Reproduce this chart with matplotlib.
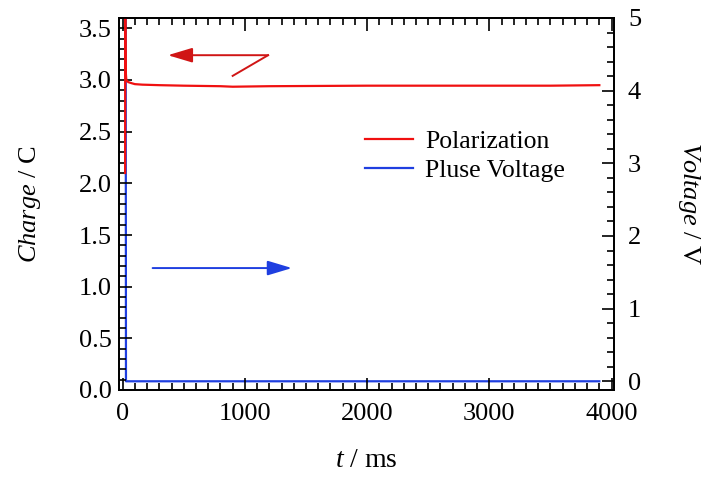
import numpy as np
import matplotlib
matplotlib.use("Agg")
import matplotlib.pyplot as plt
from matplotlib.ticker import MultipleLocator, FuncFormatter

# data
t_pol = [20, 21, 24, 30, 45, 70, 100, 160, 300, 500, 800, 900, 1200, 2000, 3000, 3500, 3900]
charge = [2.10, 3.70, 3.10, 3.00, 2.98, 2.97, 2.96, 2.955, 2.95, 2.945, 2.94, 2.935, 2.94, 2.945, 2.945, 2.945, 2.95]

t_volt = [25, 27, 3900]
voltage = [5.0, 0.0, 0.0]

plt.rcParams["font.family"] = ["Liberation Serif", "DejaVu Serif"]
plt.rcParams["mathtext.fontset"] = "custom"
plt.rcParams["mathtext.rm"] = "Liberation Serif"
plt.rcParams["mathtext.it"] = "Liberation Serif:italic"
plt.rcParams["font.size"] = 19

W, H = 715, 478
fig = plt.figure(figsize=(W / 100, H / 100), dpi=100)
fig.subplots_adjust(left=119 / W, right=614 / W, top=1 - 18 / H, bottom=1 - 390 / H)
ax1 = fig.add_subplot(111)
ax2 = ax1.twinx()

# red on top of blue
ax1.set_zorder(ax2.get_zorder() + 1)
ax1.patch.set_visible(False)

l2, = ax2.plot(t_volt, voltage, color="#1f3fe0", lw=1.6, label="Pluse Voltage")
l1, = ax1.plot(t_pol, charge, color="#f01010", lw=1.6, label="Polarization")

ax1.set_xlim(-30, 4020)
ax1.set_ylim(0, 3.6)
ax2.set_ylim(-0.12, 5.0)

ax1.xaxis.set_major_locator(MultipleLocator(1000))
ax1.xaxis.set_minor_locator(MultipleLocator(100))
ax1.yaxis.set_major_locator(MultipleLocator(0.5))
ax1.yaxis.set_minor_locator(MultipleLocator(0.1))
ax1.yaxis.set_major_formatter(FuncFormatter(lambda v, p: f"{v:.1f}"))
ax2.yaxis.set_major_locator(MultipleLocator(1))
ax2.yaxis.set_minor_locator(MultipleLocator(0.2))

for ax in (ax1, ax2):
    ax.tick_params(which="major", direction="in", length=9, width=1.2, labelsize=19)
    ax.tick_params(which="minor", direction="in", length=5, width=1.2)
    for s in ax.spines.values():
        s.set_linewidth(1.3)
ax1.tick_params(axis="x", which="both", top=True)
ax1.tick_params(axis="y", which="both", right=False)
ax1.tick_params(axis="x", pad=9)
ax1.tick_params(axis="y", pad=5)
ax2.tick_params(axis="y", pad=10)

ax1.set_xlabel("$t$ / ms", fontsize=20, labelpad=17)
ax1.set_ylabel("$Charge$ / C", fontsize=19, labelpad=26)
ax2.set_ylabel("$Voltage$ / V", fontsize=19, rotation=-90, labelpad=44)

# direction arrows
ax1.annotate("", xy=(370, 3.24), xytext=(1190, 3.24),
             arrowprops=dict(arrowstyle="-|>,head_length=1.5,head_width=0.45",
                             mutation_scale=10, color="#d01515", lw=1.4, shrinkA=0, shrinkB=0))
ax1.plot([900, 1190], [3.04, 3.24], color="#d01515", lw=1.4)
ax1.annotate("", xy=(1385, 1.18), xytext=(245, 1.18),
             arrowprops=dict(arrowstyle="-|>,head_length=1.5,head_width=0.45",
                             mutation_scale=10, color="#1f3fe0", lw=1.4, shrinkA=0, shrinkB=0))

fig.legend([l1, l2], ["Polarization", "Pluse Voltage"], loc="center left",
           bbox_to_anchor=(365 / W, 1 - 156 / H), bbox_transform=fig.transFigure,
           frameon=False, fontsize=18.5, handlelength=1.85, handletextpad=0.5,
           labelspacing=0.25, borderpad=0, borderaxespad=0)

fig.savefig("out.png", dpi=100)
